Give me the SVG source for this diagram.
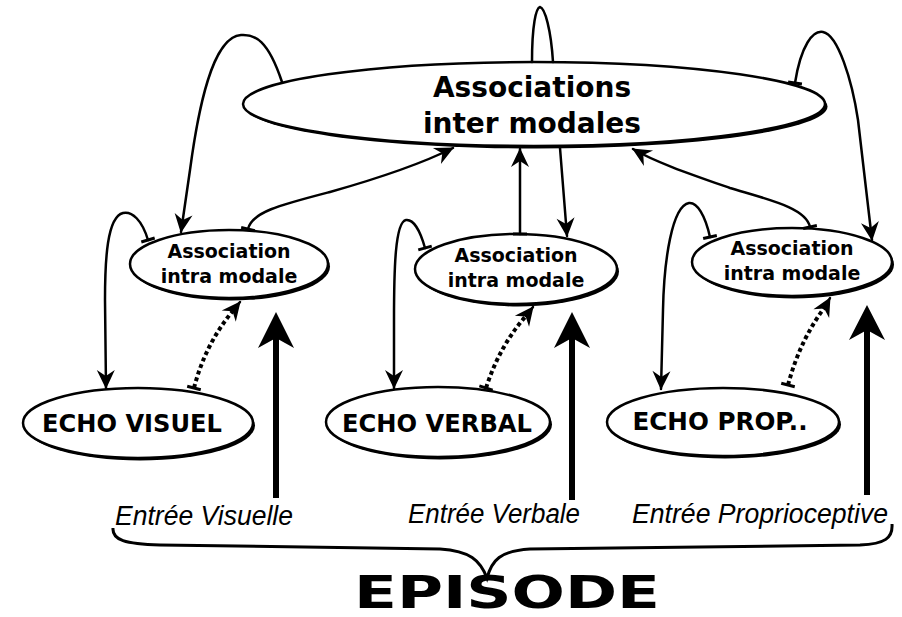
<svg xmlns="http://www.w3.org/2000/svg" width="902" height="617" viewBox="0 0 902 617">
<defs>
<style>
.bg{fill:#fff}
.sh{fill:#000}
.nd{fill:#fff;stroke:#000;stroke-width:2.5}
.t1{font-family:"DejaVu Sans","Liberation Sans",sans-serif;font-weight:bold;fill:#000;text-anchor:middle}
.ti{font-family:"Liberation Sans",Arial,sans-serif;font-style:italic;fill:#000;font-size:27px}
.c{fill:none;stroke:#000;stroke-width:2.5;stroke-linecap:round}
.d{fill:none;stroke:#000;stroke-width:4;stroke-dasharray:4 3}
.thick{fill:none;stroke:#000;stroke-width:6}
</style>
<marker id="ah" viewBox="-19 -10 21 20" refX="0" refY="0" markerWidth="21" markerHeight="20" markerUnits="userSpaceOnUse" orient="auto">
<path d="M1,0 L-18,-9 L-12,0 L-18,9 Z" fill="#000"/>
</marker>
<marker id="tee" viewBox="-3 -8 6 16" refX="0" refY="0" markerWidth="6" markerHeight="16" markerUnits="userSpaceOnUse" orient="auto">
<path d="M0,-7 L0,7" stroke="#000" stroke-width="3"/>
</marker>
</defs>
<rect class="bg" x="0" y="0" width="902" height="617"/>

<g id="inter">
<ellipse class="sh" cx="536.5" cy="106.5" rx="291" ry="42"/>
<ellipse class="nd" cx="534" cy="104" rx="291" ry="42"/>
<text class="t1" x="532" y="97" font-size="28">Associations</text>
<text class="t1" x="532" y="133" font-size="28">inter modales</text>
</g>

<g id="intra-visuel">
<ellipse class="sh" cx="231" cy="266.5" rx="99" ry="34"/>
<ellipse class="nd" cx="229" cy="264" rx="99" ry="34"/>
<text class="t1" x="229" y="258" font-size="19">Association</text>
<text class="t1" x="229" y="283" font-size="19">intra modale</text>
</g>

<g id="intra-verbal">
<ellipse class="sh" cx="518" cy="271.5" rx="101" ry="35"/>
<ellipse class="nd" cx="516" cy="269" rx="101" ry="35"/>
<text class="t1" x="516" y="262" font-size="19">Association</text>
<text class="t1" x="516" y="287" font-size="19">intra modale</text>
</g>

<g id="intra-prop">
<ellipse class="sh" cx="794" cy="264.5" rx="100" ry="34"/>
<ellipse class="nd" cx="792" cy="262" rx="100" ry="34"/>
<text class="t1" x="792" y="255" font-size="19">Association</text>
<text class="t1" x="792" y="280" font-size="19">intra modale</text>
</g>

<g id="echo-visuel">
<ellipse class="sh" cx="140" cy="425.5" rx="115" ry="35"/>
<ellipse class="nd" cx="138" cy="423" rx="115" ry="35"/>
<text class="t1" x="132" y="432" font-size="25" textLength="180" lengthAdjust="spacingAndGlyphs">ECHO VISUEL</text>
</g>

<g id="echo-verbal">
<ellipse class="sh" cx="440" cy="424.5" rx="112" ry="35"/>
<ellipse class="nd" cx="438" cy="422" rx="112" ry="35"/>
<text class="t1" x="437" y="432" font-size="25" textLength="190" lengthAdjust="spacingAndGlyphs">ECHO VERBAL</text>
</g>

<g id="echo-prop">
<ellipse class="sh" cx="725" cy="424.5" rx="116" ry="34"/>
<ellipse class="nd" cx="723" cy="422" rx="116" ry="34"/>
<text class="t1" x="720" y="430" font-size="25" textLength="175" lengthAdjust="spacingAndGlyphs">ECHO PROP..</text>
</g>

<g id="connectors">
<path class="c" marker-end="url(#ah)" d="M282,82 C268,40 255,34 241,35 C212,37 198,110 190,170 L181,232"/>
<path class="c" marker-start="url(#tee)" marker-end="url(#ah)" d="M248,229 C252,212 280,205 330,192 C390,175 425,162 453,148"/>
<path class="c" marker-end="url(#ah)" d="M532,62 C532,25 536,8 540,7 C545,8 551,30 553,62 M560,148 L567,236"/>
<path class="c" marker-start="url(#tee)" marker-end="url(#ah)" d="M520,234 L520,149"/>
<path class="c" marker-start="url(#tee)" marker-end="url(#ah)" d="M810,227 C806,208 770,200 730,188 C690,174 655,162 633,149"/>
<path class="c" marker-start="url(#tee)" marker-end="url(#ah)" d="M795,83 C801,45 813,30 823,32 C838,35 852,80 858,120 L872,240"/>
<path class="c" marker-start="url(#tee)" marker-end="url(#ah)" d="M148,240 C142,220 132,211 123,213 C107,217 105,260 105,300 L106,388"/>
<path class="c" marker-start="url(#tee)" marker-end="url(#ah)" d="M425,248 C420,230 413,219 406,220 C395,222 394,270 394,320 L394,388"/>
<path class="c" marker-start="url(#tee)" marker-end="url(#ah)" d="M710,237 C705,215 697,202 689,203 C672,206 664,260 663,310 L661,389"/>
<path class="d" marker-start="url(#tee)" d="M194,388 Q205,345 232,312"/>
<path class="c" marker-end="url(#ah)" d="M232,312 L240,302"/>
<path class="d" marker-start="url(#tee)" d="M486,388 Q500,345 526,316"/>
<path class="c" marker-end="url(#ah)" d="M526,316 L533,307"/>
<path class="d" marker-start="url(#tee)" d="M788,385 Q800,340 825,307"/>
<path class="c" marker-end="url(#ah)" d="M825,307 L830,298"/>
<path class="thick" d="M276,498 L276,336"/>
<path d="M276,312 L258,348 L276,338 L294,348 Z" fill="#000"/>
<path class="thick" d="M572,500 L572,336"/>
<path d="M572,312 L554,348 L572,338 L590,348 Z" fill="#000"/>
<path class="thick" d="M867,495 L867,330"/>
<path d="M867,305 L849,340 L867,330 L885,340 Z" fill="#000"/>
<path fill="none" stroke="#000" stroke-width="3" d="M113,528 C112,540 125,544 160,545 L440,549 C470,551 480,560 487,578 C492,560 500,551 530,549 L860,545 C885,544 893,538 892,524"/>
</g>

<g id="labels">
<text class="ti" x="115" y="525" textLength="178" lengthAdjust="spacingAndGlyphs">Entrée Visuelle</text>
<text class="ti" x="408" y="523" textLength="172" lengthAdjust="spacingAndGlyphs">Entrée Verbale</text>
<text class="ti" x="632" y="523" textLength="256" lengthAdjust="spacingAndGlyphs">Entrée Proprioceptive</text>
<text class="t1" x="507" y="608" font-size="44" textLength="306" lengthAdjust="spacingAndGlyphs" style="font-family:'DejaVu Sans',sans-serif;font-weight:900">EPISODE</text>
</g>
</svg>
